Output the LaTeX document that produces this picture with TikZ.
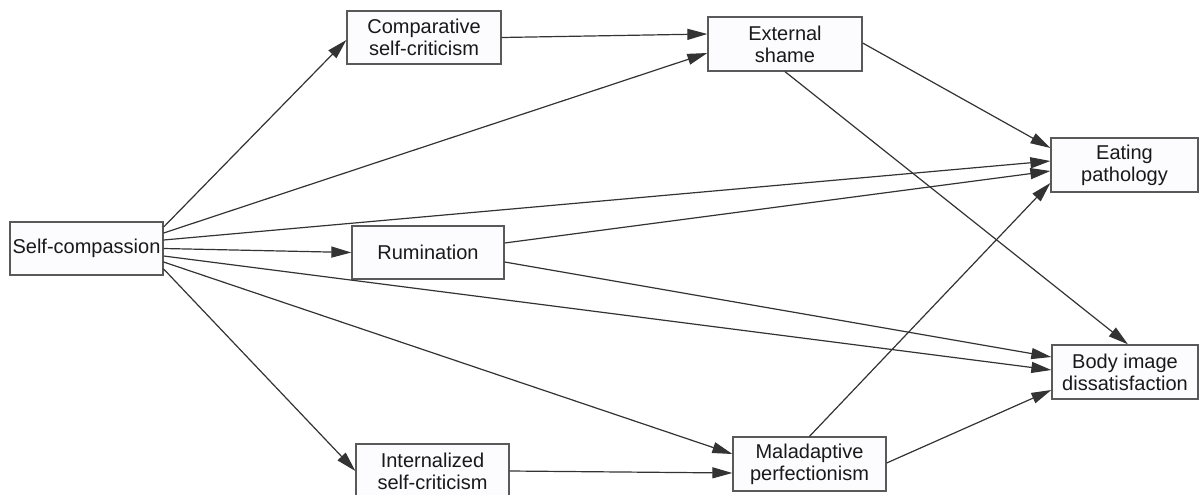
\documentclass[tikz,border=0pt]{standalone}
\usepackage{fontspec}
\setmainfont{Liberation Sans}
\usetikzlibrary{arrows.meta}
\begin{document}
\begin{tikzpicture}[x=1pt,y=-1pt,
  box/.style={draw=black!65,fill=blue!1,line width=1.3pt,rectangle,inner sep=0pt,
    align=center,font=\fontsize{20}{22}\selectfont,text=black!90},
  conn/.style={draw=black!80,line width=1.2pt,-{Triangle[length=20pt,width=11pt]}},
]
\useasboundingbox (0,0) rectangle (1199,495);
\fill[white] (0,0) rectangle (1199,495);
\node[box,minimum width=153pt,minimum height=53pt] (sc) at (86.5,248.5) {Self-compassion};
\node[box,minimum width=154pt,minimum height=53pt] (comp) at (424,37.5) {Comparative\\self-criticism};
\node[box,minimum width=154pt,minimum height=54pt] (exts) at (785,44) {External\\shame};
\node[box,minimum width=152pt,minimum height=53pt] (rum) at (428,252.5) {Rumination};
\node[box,minimum width=153pt,minimum height=54pt] (int) at (432.5,471) {Internalized\\self-criticism};
\node[box,minimum width=153pt,minimum height=54pt] (mal) at (809.5,464) {Maladaptive\\perfectionism};
\node[box,minimum width=147pt,minimum height=54pt] (eat) at (1124.5,165) {Eating\\pathology};
\node[box,minimum width=146pt,minimum height=54pt] (body) at (1125,372) {Body image\\dissatisfaction};

\draw[conn] ([yshift=21.5pt]sc.east) -- ([yshift=-2.5pt]comp.west);
\draw[conn] ([yshift=15.5pt]sc.east) -- ([yshift=-9pt]exts.west);
\draw[conn] ([yshift=8.5pt]sc.east) -- ([yshift=4pt]eat.west);
\draw[conn] (sc.east) -- (rum.west);
\draw[conn] ([yshift=-7.5pt]sc.east) -- ([yshift=2pt]body.west);
\draw[conn] ([yshift=-13.5pt]sc.east) -- ([yshift=10pt]mal.west);
\draw[conn] ([yshift=-20.5pt]sc.east) -- (int.west);

\draw[conn] (comp.east) -- ([yshift=10pt]exts.west);
\draw[conn] ([yshift=1pt]exts.east) -- ([yshift=17pt]eat.west);
\draw[conn] (exts.south) -- ([xshift=3pt]body.north);
\draw[conn] ([yshift=9.5pt]rum.east) -- ([yshift=-6pt]eat.west);
\draw[conn] ([yshift=-9.5pt]rum.east) -- ([yshift=15pt]body.west);
\draw[conn] (int.east) -- ([yshift=-9pt]mal.west);
\draw[conn] (mal.north) -- ([yshift=-18pt]eat.west);
\draw[conn] ([yshift=1pt]mal.east) -- ([yshift=-18pt]body.west);
\end{tikzpicture}
\end{document}
